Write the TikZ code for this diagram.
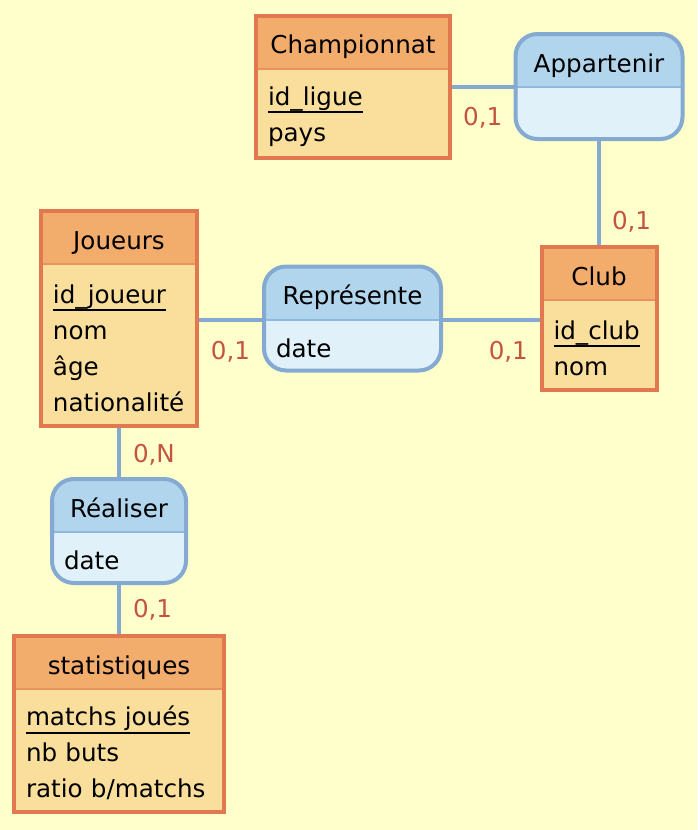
\documentclass[tikz,border=0pt]{standalone}
\usepackage{fontspec}
\setmainfont{DejaVu Sans}
\usetikzlibrary{positioning, backgrounds}
\definecolor{bgyellow}{RGB}{255,255,204}
\definecolor{entline}{RGB}{226,120,80}
\definecolor{entdiv}{RGB}{233,146,96}
\definecolor{enthdfill}{RGB}{242,172,108}
\definecolor{entbdfill}{RGB}{250,222,156}
\definecolor{asline}{RGB}{132,170,210}
\definecolor{asdiv}{RGB}{142,184,220}
\definecolor{ashdfill}{RGB}{177,213,236}
\definecolor{asbdfill}{RGB}{225,241,250}
\definecolor{cardred}{RGB}{196,84,64}
% key attribute, underlined below the descenders
\newcommand{\idkey}[1]{\setbox0\hbox{#1}\rlap{\vrule width\wd0 height -3pt depth 4pt}\box0}

\begin{document}
\begin{tikzpicture}[
        x=1pt, y=-1pt,
        txt/.style={font=\fontsize{12.3}{18}\selectfont},
        enthead/.style={txt, rectangle, draw=entdiv, line width=1pt, fill=enthdfill, minimum height=26.5pt, text height=11.5pt, text depth=0pt, inner sep=0pt, outer sep=0pt},
        entbody/.style={txt, rectangle, draw=entdiv, line width=1pt, fill=entbdfill, align=left, inner xsep=6pt, inner ysep=0pt, outer sep=0pt, execute at begin node={\rule{0pt}{12.5pt}}},
        ashead/.style={txt, rectangle, minimum height=26.5pt, text height=11.5pt, text depth=0pt, inner sep=0pt, outer sep=0pt},
        asbody/.style={txt, rectangle, align=left, inner xsep=6pt, inner ysep=0pt, outer sep=0pt, execute at begin node={\rule{0pt}{12.5pt}}},
        entframe/.style={draw=entline, line width=2pt},
        asframe/.style={draw=asline, line width=2pt, rounded corners=11pt},
        link/.style={draw=asline, line width=2pt},
        card/.style={font=\fontsize{12.3}{14}\selectfont, text=cardred, inner sep=0pt}
    ]
        \useasboundingbox (0,0) rectangle (348.5,415);
        \begin{scope}[on background layer]
            \fill[bgyellow] (0,0) rectangle (348.5,415);
        \end{scope}

        % Entities
        \node[enthead, minimum width=97pt]   (champ) at (176.5,21.25) {Championnat};
        \node[entbody, text width=85pt, minimum height=44.5pt, below=0pt of champ] (champA) {\idkey{id\_ligue}\\pays};

        \node[enthead, minimum width=78pt]   (jou) at (59.5,118.75) {Joueurs};
        \node[entbody, text width=66pt, minimum height=81pt, below=0pt of jou] (jouA) {\idkey{id\_joueur}\\nom\\âge\\nationalité};

        \node[enthead, minimum width=57.5pt] (club) at (299.5,136.75) {Club};
        \node[entbody, text width=45.5pt, minimum height=45pt, below=0pt of club] (clubA) {\idkey{id\_club}\\nom};

        \node[enthead, minimum width=105pt]  (stat) at (59.5,331.25) {statistiques};
        \node[entbody, text width=93pt, minimum height=61.5pt, below=0pt of stat] (statA) {\idkey{matchs joués}\\nb buts\\ratio b/matchs};

        % Associations
        \node[ashead, minimum width=83.5pt]  (app) at (299.5,30.25) {Appartenir};
        \node[asbody, text width=71.5pt, minimum height=26pt, below=0pt of app] (appA) {};

        \node[ashead, minimum width=88.5pt]  (rep) at (176.25,146.5) {Représente};
        \node[asbody, text width=76.5pt, minimum height=25.5pt, below=0pt of rep] (repA) {date};

        \node[ashead, minimum width=67pt]    (real) at (59.5,252.75) {Réaliser};
        \node[asbody, text width=55pt, minimum height=25.5pt, below=0pt of real] (realA) {date};

        \begin{scope}[on background layer]
            \foreach \h/\b in {app/appA, rep/repA, real/realA} {
                \begin{scope}
                    \clip[rounded corners=11pt] (\h.north west) rectangle (\b.south east);
                    \fill[ashdfill] (\h.north west) rectangle (\h.south east);
                    \fill[asbdfill] (\b.north west) rectangle (\b.south east);
                \end{scope}
                \draw[asdiv, line width=1pt] (\h.south west) -- (\h.south east);
            }
        \end{scope}

        % Links and cardinalities
        \draw[link] (app.south west -| champA.east) -- node[card, below=9pt] {0,1} (app.south west);
        \draw[link] (appA.south) -- node[card, pos=0.77, right=5.5pt] {0,1} (club.north);
        \draw[link] (rep.south west -| jouA.east) -- node[card, below=10pt] {0,1} (rep.south west);
        \draw[link] (rep.south east) -- node[card, pos=0.67, below=10pt] {0,1} (rep.south east -| clubA.west);
        \draw[link] (jouA.south) -- node[card, pos=0.55, right=6pt] {0,N} (real.north);
        \draw[link] (realA.south) -- node[card, pos=0.5, right=6pt] {0,1} (stat.north);

        % Frames
        \foreach \h/\b in {champ/champA, jou/jouA, club/clubA, stat/statA}
            \draw[entframe] (\h.north west) rectangle (\b.south east);
        \foreach \h/\b in {app/appA, rep/repA, real/realA}
            \draw[asframe] (\h.north west) rectangle (\b.south east);
    \end{tikzpicture}
\end{document}
